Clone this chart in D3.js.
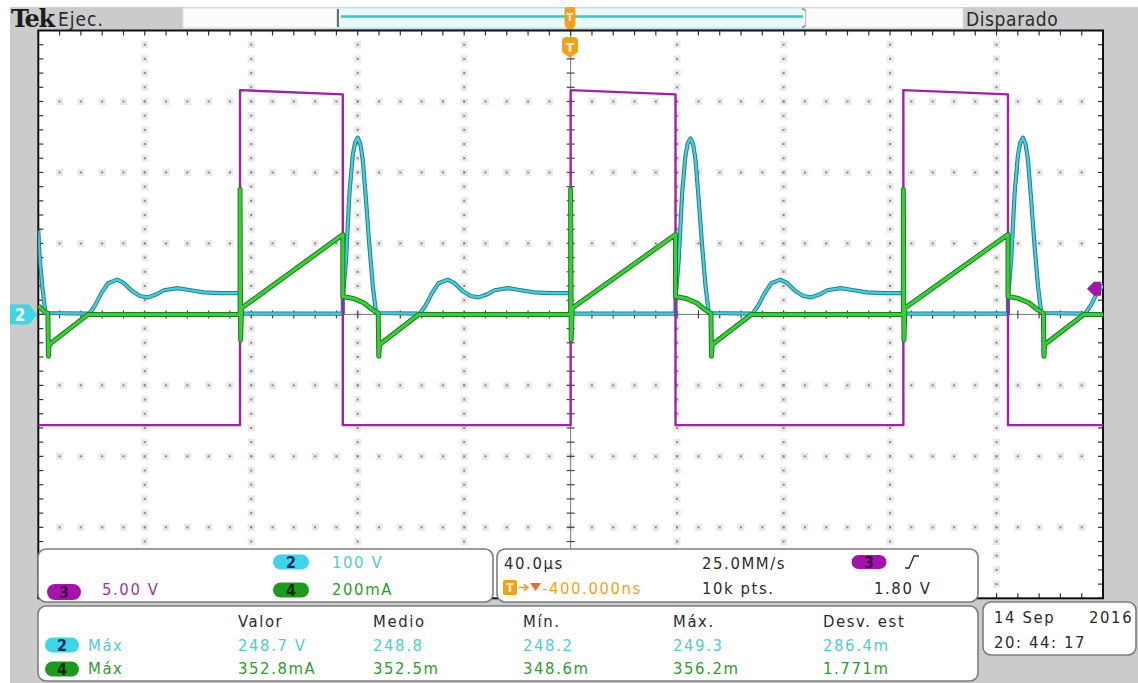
<!DOCTYPE html>
<html><head><meta charset="utf-8">
<script src="https://cdnjs.cloudflare.com/ajax/libs/d3/7.8.5/d3.min.js"></script>
<style>
html,body{margin:0;padding:0;background:#fff;}
svg{display:block;}
text{font-family:"DejaVu Sans Condensed","DejaVu Sans",sans-serif;}
</style></head><body>
<svg id="scope" width="1138" height="683"></svg>
<script>
// ---- acquisition settings ----
const usPerDiv = 40;       // horizontal scale, µs/div
const ch2PerDiv = 100;     // V/div
const ch3PerDiv = 5;       // V/div
const ch4PerDiv = 200;     // mA/div
const trigLevel = 1.80;    // V, channel 3
const trigOffsetUs = -0.4; // trigger position

// ---- channel 3 (gate drive), [µs, V] ----
const ch3 = [[-200,-7.8],[-124.2,-7.8],[-124.2,15.8],[-85.6,15.5],[-85.6,-7.8],
  [0,-7.8],[0,15.8],[39.4,15.5],[39.4,-7.8],[125,-7.8],[125,15.8],[164.3,15.5],
  [164.3,-7.8],[200,-7.8]];

// ---- channel 2 (drain voltage), [µs, V] ----
const ch2 = [[-200,118],[-199.5,80],[-198.5,39],[-197.3,2],[-180.9,1],[-178.8,12],
  [-176.3,30],[-173.8,44],[-170.4,49],[-167.8,44],[-164.8,33],[-161.8,26],[-158.8,24],
  [-155.8,28],[-152.8,34],[-147.8,37],[-142.8,34],[-137.8,31],[-131.8,30],[-124.2,30],
  [-124.2,1],[-85.6,1],[-85.6,23],[-84.4,77],[-83.1,171],[-81.9,223],[-81.0,242],[-80.0,249],
  [-79.0,240],[-78.1,218],[-76.9,162],[-75.6,96],[-74.3,39],[-73.1,2],[-56.7,1],[-54.6,12],
  [-52.1,30],[-49.6,44],[-46.2,49],[-43.6,44],[-40.6,33],[-37.6,26],[-34.6,24],
  [-31.6,28],[-28.6,34],[-23.6,37],[-18.6,34],[-13.6,31],[-7.6,30],[0,30],[0,1],
  [39.4,1],[39.4,23],[40.6,77],[41.9,171],[43.1,223],[44.0,241],[45.0,248],[46.0,240],
  [46.9,218],[48.1,162],[49.4,96],[50.7,39],[51.9,2],[68.3,1],[70.4,12],[72.9,30],
  [75.4,44],[78.8,49],[81.4,44],[84.4,33],[87.4,26],[90.4,24],[93.4,28],[96.4,34],
  [101.4,37],[106.4,34],[111.4,31],[117.4,30],[125,30],[125,1],[164.3,1],[164.3,23],
  [165.5,77],[166.8,171],[168.0,223],[168.9,242],[169.9,249],[170.9,240],[171.8,218],
  [173.0,162],[174.3,96],[175.6,39],[176.8,2],[193.2,1],[195.3,12],[197.8,30],[200,41]];

// ---- channel 4 (inductor current), [µs, mA] ----
const ch4 = [[-200,24],[-197.5,6],[-196.4,3],[-196.2,-118],[-195.9,-85],[-181.3,0],
  [-124.2,0],[-124.2,352],[-124.0,-72],[-123.6,18],[-85.6,225],[-85.6,50],[-84.6,49],
  [-81.6,45],[-77.6,32],[-74.6,14],[-72.3,3],[-72.1,-118],[-71.8,-85],[-57.1,0],
  [0,0],[0,352],[0.2,-72],[0.6,18],[39.4,225],[39.4,50],[40.4,49],[43.4,45],[47.4,32],
  [50.4,14],[52.7,3],[52.9,-118],[53.2,-85],[67.9,0],[125,0],[125,352],[125.2,-72],
  [125.6,18],[164.3,225],[164.3,50],[165.3,49],[168.3,45],[172.3,32],[175.3,14],
  [177.6,3],[177.8,-118],[178.1,-85],[192.8,0],[200,0]];

// ---- readouts ----
const measHeaders = ["Valor","Medio","Mín.","Máx.","Desv. est"];
const measCh2 = ["248.7 V","248.8","248.2","249.3","286.4m"];
const measCh4 = ["352.8mA","352.5m","348.6m","356.2m","1.771m"];
const scaleCh2 = "100 V", scaleCh4 = "200mA", scaleCh3 = "5.00 V";
const timeReadout = "40.0\u00b5s", posReadout = "-400.000ns";
const rateReadout = "25.0MM/s", lenReadout = "10k pts.", trigReadout = "1.80 V";
const dateLine = ["14 Sep","2016"], timeLine = "20: 44: 17";

// ---- colours ----
const C = {
  cyan:"#4ccbd8", cyanDark:"#1f8390", cyanText:"#55c8d6", cyanBadge:"#3fd4e6",
  green:"#3ccc3c", greenDark:"#17801a", greenText:"#2f9a2f", greenBadge:"#1d9a1d",
  purple:"#a222a6", purpleText:"#9c3a9e", purpleBadge:"#a414aa",
  orange:"#f0a21c", panel:"#cbcbcb", ink:"#2b2b2b"
};

const svg = d3.select("#scope");
const X0 = 38.3, X1 = 1103, Y0 = 30.5, Y1 = 598.3;
const x = d3.scaleLinear().domain([-5*usPerDiv, 5*usPerDiv]).range([X0, X1]);
const y = d3.scaleLinear().domain([-4, 4]).range([Y1, Y0]); // divisions

// background panel
svg.append("rect").attr("x",0).attr("y",0).attr("width",1138).attr("height",683).attr("fill","#fff");
svg.append("rect").attr("x",10).attr("y",7).attr("width",1128).attr("height",676).attr("fill",C.panel);

// ---- top status bar ----
const statusBar = svg.append("g");
statusBar.append("text").attr("x",11).attr("y",27).text("Tek")
  .style("font-family","'DejaVu Serif',serif").style("font-weight","bold")
  .style("font-size","24px").style("letter-spacing","-1.5px").attr("fill","#1b1b1b");
statusBar.append("text").attr("x",58).attr("y",26).text("Ejec.")
  .style("font-size","19px").style("letter-spacing","1px").attr("fill",C.ink);
statusBar.append("rect").attr("x",183).attr("y",8).attr("width",154).attr("height",20)
  .attr("fill","#fbfbfb").attr("stroke","#e2e2e2");
statusBar.append("rect").attr("x",337).attr("y",8).attr("width",469).attr("height",20)
  .attr("fill","#eaf9fb").attr("stroke","#bfe3ea");
statusBar.append("line").attr("x1",338).attr("x2",338).attr("y1",9).attr("y2",27)
  .attr("stroke","#6d6d6d").attr("stroke-width",2);
statusBar.append("path").attr("d","M802,9 Q806,9 806,13 L806,23 Q806,27 802,27")
  .attr("fill","none").attr("stroke","#8a8a8a").attr("stroke-width",1.5);
statusBar.append("line").attr("x1",341).attr("x2",803).attr("y1",16.5).attr("y2",16.5)
  .attr("stroke","#3fc4c0").attr("stroke-width",2.5);
statusBar.append("rect").attr("x",806).attr("y",8).attr("width",157).attr("height",20)
  .attr("fill","#fbfbfb").attr("stroke","#e2e2e2");
statusBar.append("text").attr("x",966).attr("y",26).text("Disparado")
  .style("font-size","19px").style("letter-spacing","0.6px").attr("fill",C.ink);
// record-view trigger marker
const tx = x(trigOffsetUs) + 0.4;
statusBar.append("rect").attr("x",tx-5.5).attr("y",7).attr("width",11).attr("height",19).attr("rx",3)
  .attr("fill",C.orange);
statusBar.append("path").attr("d",`M${tx-6},25 L${tx+6},25 L${tx},32 Z`).attr("fill",C.orange);
statusBar.append("text").attr("x",tx).attr("y",21).attr("text-anchor","middle").text("T")
  .style("font-size","11px").style("font-weight","bold").attr("fill","#fff3d8");

// ---- graticule ----
const plot = svg.append("g");
plot.append("rect").attr("x",X0).attr("y",Y0).attr("width",X1-X0).attr("height",Y1-Y0).attr("fill","#fff");

const minorX = d3.range(-25, 26).map(i => i*usPerDiv/5);
const minorY = d3.range(-20, 21).map(i => i/5);
const majorX = d3.range(-4, 5).filter(i => i !== 0).map(i => i*usPerDiv);
const majorY = d3.range(-3, 4).filter(i => i !== 0);

const dots = [];
majorX.forEach(t => minorY.slice(1,-1).forEach(v => dots.push([x(t), y(v)])));
majorY.forEach(v => minorX.slice(1,-1).forEach(t => dots.push([x(t), y(v)])));
const gridG = plot.append("g");
gridG.selectAll("rect.halo").data(dots).join("rect").attr("class","halo")
  .attr("x",d=>d[0]-3.5).attr("y",d=>d[1]-3.5).attr("width",7).attr("height",7)
  .attr("fill","#e9e9e9");
gridG.selectAll("rect.dot").data(dots).join("rect").attr("class","dot")
  .attr("x",d=>d[0]-1).attr("y",d=>d[1]-1).attr("width",2).attr("height",2)
  .attr("fill","#8a8a8a");

// centre axes with minor ticks
plot.append("line").attr("x1",x(0)).attr("x2",x(0)).attr("y1",Y0).attr("y2",Y1)
  .attr("stroke","#777").attr("stroke-width",1);
plot.append("line").attr("x1",X0).attr("x2",X1).attr("y1",y(0)).attr("y2",y(0))
  .attr("stroke","#777").attr("stroke-width",1);
plot.selectAll("line.cty").data(minorY).join("line").attr("class","cty")
  .attr("x1",x(0)-4).attr("x2",x(0)+4).attr("y1",d=>y(d)).attr("y2",d=>y(d))
  .attr("stroke","#444").attr("stroke-width",1.2);
plot.selectAll("line.ctx").data(minorX).join("line").attr("class","ctx")
  .attr("x1",d=>x(d)).attr("x2",d=>x(d)).attr("y1",y(0)-4).attr("y2",y(0)+4)
  .attr("stroke","#444").attr("stroke-width",1.2);
// border ticks
plot.selectAll("line.btx").data(minorX.flatMap(t=>[[t,Y0,Y0+5],[t,Y1,Y1-5]])).join("line")
  .attr("class","btx").attr("x1",d=>x(d[0])).attr("x2",d=>x(d[0])).attr("y1",d=>d[1]).attr("y2",d=>d[2])
  .attr("stroke","#333").attr("stroke-width",1.2);
plot.selectAll("line.bty").data(minorY.flatMap(v=>[[v,X0,X0+5],[v,X1,X1-5]])).join("line")
  .attr("class","bty").attr("y1",d=>y(d[0])).attr("y2",d=>y(d[0])).attr("x1",d=>d[1]).attr("x2",d=>d[2])
  .attr("stroke","#333").attr("stroke-width",1.2);

// ---- traces ----
svg.append("clipPath").attr("id","clip").append("rect")
  .attr("x",X0).attr("y",Y0).attr("width",X1-X0).attr("height",Y1-Y0);
const traces = svg.append("g").attr("clip-path","url(#clip)");
const line = perDiv => d3.line().x(d => x(d[0])).y(d => y(d[1]/perDiv));

function trace(data, perDiv, under, over, wu, wo) {
  const p = line(perDiv)(data);
  traces.append("path").attr("d",p).attr("fill","none").attr("stroke",under)
    .attr("stroke-width",wu).attr("stroke-linejoin","round");
  if (over) traces.append("path").attr("d",p).attr("fill","none").attr("stroke",over)
    .attr("stroke-width",wo).attr("stroke-linejoin","round");
}
trace(ch2, ch2PerDiv, C.cyanDark, C.cyan, 4.2, 2.2);
trace(ch3, ch3PerDiv, C.purple, null, 2.4);
trace(ch4, ch4PerDiv, C.greenDark, C.green, 5, 3);

// border
plot.append("rect").attr("x",X0).attr("y",Y0).attr("width",X1-X0).attr("height",Y1-Y0)
  .attr("fill","none").attr("stroke","#111").attr("stroke-width",2);

// ---- markers ----
// trigger position badge
const tb = svg.append("g");
tb.append("path").attr("d",`M${tx-8},41 Q${tx-8},37 ${tx-4},37 L${tx+4},37 Q${tx+8},37 ${tx+8},41 L${tx+8},52 L${tx},58 L${tx-8},52 Z`)
  .attr("fill",C.orange);
tb.append("text").attr("x",tx).attr("y",52).attr("text-anchor","middle").text("T")
  .style("font-size","13px").style("font-weight","bold").attr("fill","#fff6e0");
// channel 2 ground marker
const gy = y(0);
svg.append("path").attr("d",`M10,${gy-10} L29,${gy-10} L37,${gy} L29,${gy+10} L10,${gy+10} Z`)
  .attr("fill",C.cyanBadge);
svg.append("text").attr("x",20).attr("y",gy+6.5).attr("text-anchor","middle").text("2")
  .style("font-size","17px").style("font-weight","bold").attr("fill","#f4ffff");
// trigger level marker (channel 3)
const ly = y(trigLevel/ch3PerDiv);
svg.append("path").attr("d",`M1087,${ly} L1094,${ly-7} L1101,${ly-7} L1101,${ly+7} L1094,${ly+7} Z`)
  .attr("fill",C.purpleBadge);

// ---- readout boxes ----
function box(x0, y0, w, h) {
  svg.append("rect").attr("x",x0).attr("y",y0).attr("width",w).attr("height",h).attr("rx",8)
    .attr("fill","#fff").attr("stroke","#7d7d7d").attr("stroke-width",1.6);
}
function txt(x0, y0, s, col, size) {
  return svg.append("text").attr("x",x0).attr("y",y0).text(s).attr("fill",col)
    .style("font-size",(size||16.5)+"px").style("letter-spacing","1.6px");
}
function badge(cx, cy, w, h, fill, label, lcol) {
  svg.append("rect").attr("x",cx-w/2).attr("y",cy-h/2).attr("width",w).attr("height",h)
    .attr("rx",h/2).attr("fill",fill);
  svg.append("text").attr("x",cx).attr("y",cy+5.5).attr("text-anchor","middle").text(label)
    .attr("fill",lcol).style("font-size","16px").style("font-weight","bold");
}

box(38, 549, 455, 53);
badge(291, 562, 36, 15, C.cyanBadge, "2", "#1b2a63");
txt(332, 568, scaleCh2, C.cyanText);
badge(291, 590, 36, 15, C.greenBadge, "4", "#0b2d0b");
txt(332, 595, scaleCh4, C.greenText);
badge(64, 592, 34, 16, C.purpleBadge, "3", "#4a0650");
txt(102, 595, scaleCh3, C.purpleText);

box(497, 549, 481, 53);
txt(504, 569, timeReadout, C.ink);
txt(702, 569, rateReadout, C.ink);
txt(702, 594, lenReadout, C.ink);
badge(869, 562, 35, 14, C.purpleBadge, "3", "#4a0650");
svg.append("path").attr("d","M905,568 L909,568 L914,556 L919,556").attr("fill","none")
  .attr("stroke",C.ink).attr("stroke-width",1.4);
txt(874, 594, trigReadout, C.ink);
// horizontal position readout
svg.append("rect").attr("x",503).attr("y",580).attr("width",14).attr("height",15).attr("rx",2).attr("fill",C.orange);
svg.append("text").attr("x",510).attr("y",592).attr("text-anchor","middle").text("T")
  .style("font-size","12px").style("font-weight","bold").attr("fill","#fff3d6");
svg.append("path").attr("d","M519,587.5 L527,587.5 M524,584.5 L528,587.5 L524,590.5")
  .attr("fill","none").attr("stroke",C.orange).attr("stroke-width",1.6);
svg.append("path").attr("d","M530,583 L541,583 L535.5,591 Z").attr("fill","#f06a2c");
txt(542, 594, posReadout, C.orange);

box(38, 606, 940, 75);
const colX = [238, 373, 523, 673, 823];
measHeaders.forEach((h,i) => txt(colX[i], 627, h, C.ink));
badge(62, 645, 34, 15, C.cyanBadge, "2", "#1b2a63");
txt(88, 651, "Máx", C.cyanText);
measCh2.forEach((v,i) => txt(colX[i], 651, v, C.cyanText));
badge(62, 669, 34, 15, C.greenBadge, "4", "#0b2d0b");
txt(88, 674, "Máx", C.greenText);
measCh4.forEach((v,i) => txt(colX[i], 674, v, C.greenText));

box(983, 602, 153, 53);
txt(994, 623, dateLine[0], C.ink);
txt(1089, 623, dateLine[1], C.ink);
txt(994, 648, timeLine, C.ink);
</script>
</body></html>
